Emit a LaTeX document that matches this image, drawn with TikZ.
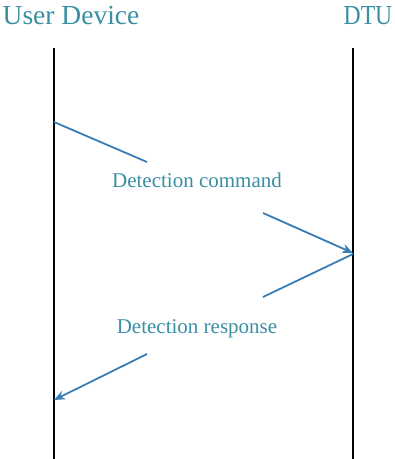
\documentclass[tikz,border=0pt]{standalone}
\usepackage{fontspec}
\setmainfont{Liberation Serif}
\usetikzlibrary{arrows.meta}
\definecolor{labelteal}{HTML}{3A8FA3}
\definecolor{msgblue}{HTML}{3A7DB5}
\begin{document}
\begin{tikzpicture}[x=1pt,y=-1pt,
  header/.style={text=labelteal,font=\fontsize{27.5}{30}\selectfont,inner sep=0pt,anchor=base},
  msglabel/.style={text=labelteal,font=\fontsize{21}{24}\selectfont,inner sep=0pt},
  lifeline/.style={line width=2.2pt,black},
  msgline/.style={line width=1.8pt,msgblue},
  msgarrow/.style={msgline,-{Stealth[length=11pt,width=9pt]}}]
\useasboundingbox (0,0) rectangle (395,459);
% participants
\node[header] (user) at (71,24) {User Device};
\node[header,xscale=0.86] (dtu) at (368,24) {DTU};
% lifelines
\coordinate (utop) at (54,48);
\coordinate (ubot) at (54,459);
\coordinate (dtop) at (353,48);
\coordinate (dbot) at (353,459);
\draw[lifeline] (utop) -- (ubot);
\draw[lifeline] (dtop) -- (dbot);
% detection command: user device to DTU
\coordinate (c0) at (54,122);
\coordinate (c1) at (147,162);
\coordinate (c2) at (263,213);
\coordinate (c3) at (353,253);
\node[msglabel] (cmd) at (197,180) {Detection command};
\draw[msgline] (c0) -- (c1);
\draw[msgarrow] (c2) -- (c3);
% detection response: DTU to user device
\coordinate (r0) at (353,254);
\coordinate (r1) at (263,297);
\coordinate (r2) at (147,354);
\coordinate (r3) at (54,400);
\node[msglabel] (rsp) at (197,329) {Detection response};
\draw[msgline] (r0) -- (r1);
\draw[msgarrow] (r2) -- (r3);
\end{tikzpicture}
\end{document}
